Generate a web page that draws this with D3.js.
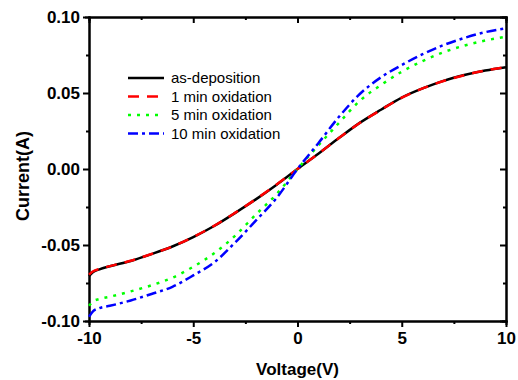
<!DOCTYPE html>
<html>
<head>
<meta charset="utf-8">
<script src="https://cdn.jsdelivr.net/npm/d3@7"></script>
<style>
  body { margin: 0; background: #fff; }
  svg { display: block; font-family: "Liberation Sans", Arial, sans-serif; }
  .axis path, .axis line { stroke: #000; stroke-width: 2; }
  .axis text { font-size: 17px; font-weight: bold; fill: #000; font-family: "Liberation Sans", Arial, sans-serif; }
</style>
</head>
<body>
<div id="chart"></div>
<script>
// voltage sweep points (V)
var voltage = [-10, -9.8, -9.5, -9, -8, -7, -6, -5, -4, -3, -2, -1, 0, 1, 2, 3, 4, 5, 6, 7, 8, 9, 10];

// currents (A)
var asDeposition = [-0.0705, -0.0678, -0.0660, -0.0640, -0.0605, -0.0560, -0.0510, -0.0448, -0.0375, -0.0290, -0.0200, -0.0103, 0, 0.0100, 0.0205, 0.0305, 0.0390, 0.0470, 0.0530, 0.0580, 0.0618, 0.0648, 0.0670];
var oxid1min = [-0.0695, -0.0673, -0.0658, -0.0639, -0.0604, -0.0559, -0.0510, -0.0447, -0.0374, -0.0289, -0.0199, -0.0102, 0, 0.0101, 0.0205, 0.0304, 0.0389, 0.0469, 0.0530, 0.0579, 0.0617, 0.0648, 0.0670];
var oxid5min = [-0.0900, -0.0870, -0.0855, -0.0840, -0.0805, -0.0765, -0.0715, -0.0643, -0.0555, -0.0440, -0.0300, -0.0165, 0, 0.0155, 0.0305, 0.0450, 0.0552, 0.0640, 0.0710, 0.0768, 0.0812, 0.0845, 0.0870];
var oxid10min = [-0.0972, -0.0935, -0.0915, -0.0900, -0.0865, -0.0822, -0.0775, -0.0700, -0.0615, -0.0485, -0.0340, -0.0190, 0, 0.0170, 0.0345, 0.0495, 0.0603, 0.0684, 0.0755, 0.0815, 0.0862, 0.0900, 0.0926];

var seriesNames = ["as-deposition", "1 min oxidation", "5 min oxidation", "10 min oxidation"];
var seriesValues = [asDeposition, oxid1min, oxid5min, oxid10min];

var xMajor = [-10, -5, 0, 5, 10];
var xMinor = [-7.5, -2.5, 2.5, 7.5];
var yMajor = [-0.10, -0.05, 0, 0.05, 0.10];
var yMinor = [-0.075, -0.025, 0.025, 0.075];

var colors = ["#000000", "#ff0000", "#00ff00", "#0000ff"];
var dashes = ["none", "11,8", "3,6", "10,4,3,4"];

var W = 518, H = 380;
var margin = { left: 89, right: 12, top: 17, bottom: 59 };
var width = W - margin.left - margin.right,
    height = H - margin.top - margin.bottom;

var svg = d3.select("#chart")
    .append("svg")
        .attr("width", W)
        .attr("height", H)
        .append("g")
            .attr("transform", "translate(" + margin.left + "," + margin.top + ")");

var x = d3.scaleLinear().domain([-10, 10]).range([0, width]);
var y = d3.scaleLinear().domain([-0.1, 0.1]).range([height, 0]);

var fmtX = function(d){ return String(d); };
var fmtY = function(d){ return d3.format(".2f")(d).replace("\u2212", "-"); };

// minor ticks first, then major with labels
svg.append("g").attr("class", "axis").attr("transform", "translate(0," + height + ")")
    .call(d3.axisBottom(x).tickValues(xMinor).tickSize(3).tickFormat(""));
svg.append("g").attr("class", "axis").attr("transform", "translate(0," + height + ")")
    .call(d3.axisBottom(x).tickValues(xMajor).tickSize(6).tickSizeOuter(0).tickPadding(5).tickFormat(fmtX));

svg.append("g").attr("class", "axis")
    .call(d3.axisTop(x).tickValues(xMinor).tickSize(-3).tickFormat(""));
svg.append("g").attr("class", "axis")
    .call(d3.axisTop(x).tickValues(xMajor).tickSize(-6).tickSizeOuter(0).tickFormat(""));

svg.append("g").attr("class", "axis")
    .call(d3.axisLeft(y).tickValues(yMinor).tickSize(3).tickFormat(""));
svg.append("g").attr("class", "axis")
    .call(d3.axisLeft(y).tickValues(yMajor).tickSize(6).tickSizeOuter(0).tickPadding(3).tickFormat(fmtY));

svg.append("g").attr("class", "axis").attr("transform", "translate(" + width + ",0)")
    .call(d3.axisRight(y).tickValues(yMinor).tickSize(-3).tickFormat(""));
svg.append("g").attr("class", "axis").attr("transform", "translate(" + width + ",0)")
    .call(d3.axisRight(y).tickValues(yMajor).tickSize(-6).tickSizeOuter(0).tickFormat(""));

svg.selectAll(".axis .domain").attr("stroke-linecap", "square");

// curves
var line = d3.line()
    .x(function(d){ return x(d[0]); })
    .y(function(d){ return y(d[1]); })
    .curve(d3.curveMonotoneX);

seriesValues.forEach(function(vals, i){
    var pts = voltage.map(function(v, j){ return [v, vals[j]]; });
    svg.append("path")
        .datum(pts)
        .attr("fill", "none")
        .attr("stroke", colors[i])
        .attr("stroke-width", 2.5)
        .attr("stroke-dasharray", dashes[i])
        .attr("d", line);
});

// legend
var legend = svg.append("g")
    .attr("transform", "translate(" + (128 - margin.left) + "," + (78 - margin.top) + ")");

seriesNames.forEach(function(name, i){
    var row = legend.append("g").attr("transform", "translate(0," + (i * 18.5) + ")");
    row.append("line")
        .attr("x1", 0).attr("x2", 36)
        .attr("y1", 0).attr("y2", 0)
        .attr("stroke", colors[i])
        .attr("stroke-width", 2.5)
        .attr("stroke-dasharray", dashes[i]);
    row.append("text")
        .attr("x", 43)
        .attr("y", 0)
        .attr("dy", "0.35em")
        .attr("font-size", "15px")
        .text(name);
});

// axis titles
svg.append("text")
    .attr("x", width / 2)
    .attr("y", height + 54)
    .attr("text-anchor", "middle")
    .attr("font-size", "17px")
    .attr("font-weight", "bold")
    .text("Voltage(V)");

svg.append("text")
    .attr("transform", "rotate(-90)")
    .attr("x", -(176 - margin.top))
    .attr("y", 29 - margin.left)
    .attr("text-anchor", "middle")
    .attr("font-size", "18px")
    .attr("font-weight", "bold")
    .text("Current(A)");
</script>
</body>
</html>
